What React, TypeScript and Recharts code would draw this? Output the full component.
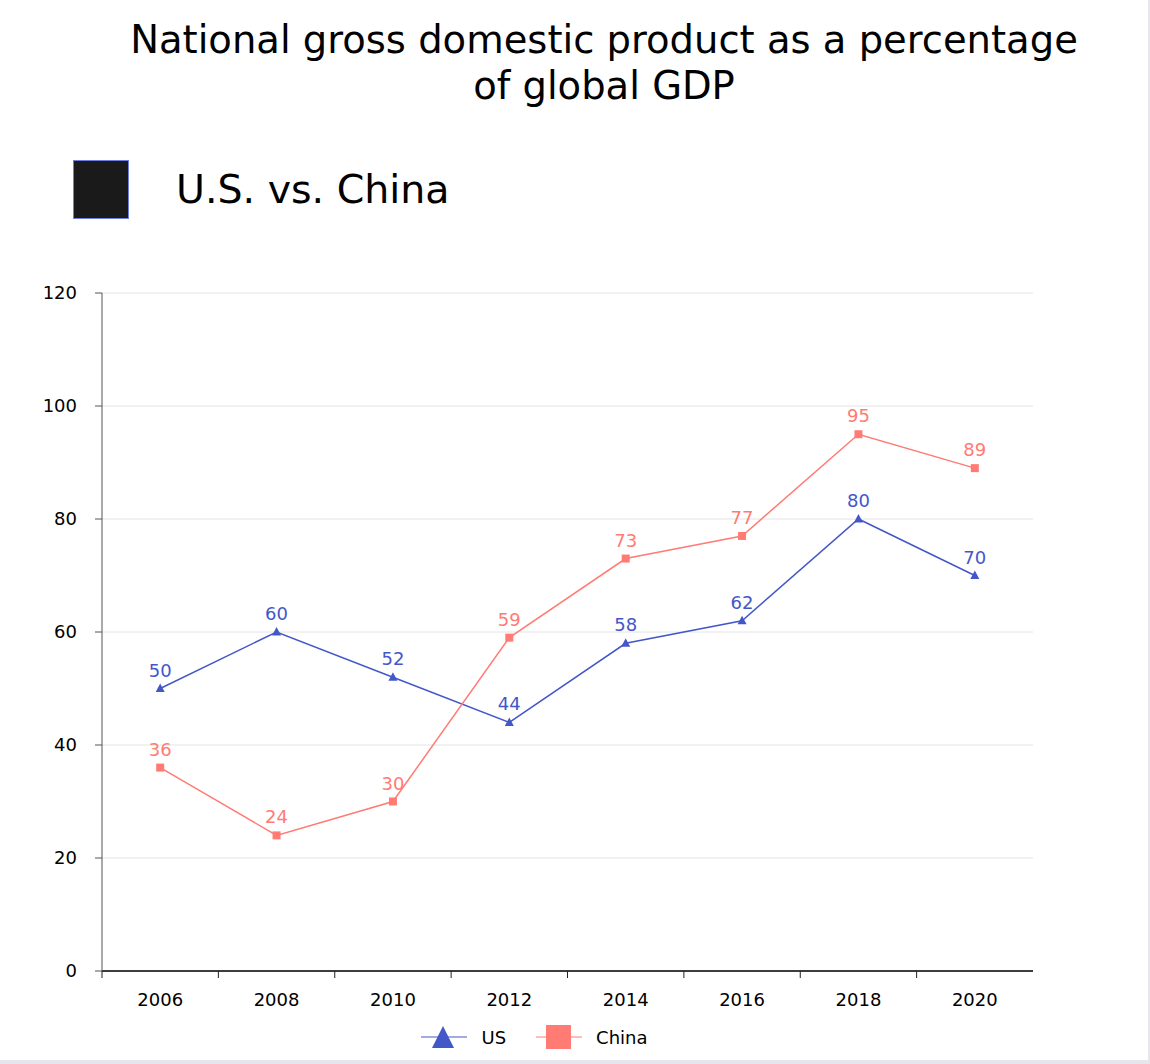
import React from 'react'
import {
	LineChart,
	Line,
	XAxis,
	YAxis,
	CartesianGrid,
	Legend,
	LabelList,
} from 'recharts'

const years = [2006, 2008, 2010, 2012, 2014, 2016, 2018, 2020]
const usValues = [50, 60, 52, 44, 58, 62, 80, 70]
const chinaValues = [36, 24, 30, 59, 73, 77, 95, 89]
const yTicks = [0, 20, 40, 60, 80, 100, 120]
const boundaryTicks = [2005, 2007, 2009, 2011, 2013, 2015, 2017, 2019]
const allXTicks = [...boundaryTicks, ...years].sort((a, b) => a - b)

const US_COLOR = '#4357c9'
const CHINA_COLOR = '#ff7b74'
const FONT = '"DejaVu Sans", Verdana, sans-serif'

const data = years.map((year, i) => ({
	year,
	US: usValues[i],
	China: chinaValues[i],
}))

const TriangleDot = (props: any) => {
	const { cx, cy } = props
	if (cx == null || cy == null) return null
	return (
		<polygon
			points={`${cx},${cy - 5} ${cx - 4.5},${cy + 3.5} ${cx + 4.5},${cy + 3.5}`}
			fill={US_COLOR}
		/>
	)
}

const SquareDot = (props: any) => {
	const { cx, cy } = props
	if (cx == null || cy == null) return null
	return <rect x={cx - 4} y={cy - 4} width={8} height={8} fill={CHINA_COLOR} />
}

// boundary years get a tick mark, data years get a label
const XTick = (props: any) => {
	const { x, y, payload } = props
	if (boundaryTicks.includes(payload.value)) {
		return <line x1={x} y1={y} x2={x} y2={y + 7} stroke='#222' />
	}
	return (
		<text
			x={x}
			y={y + 22}
			dy='0.71em'
			textAnchor='middle'
			fill='#000'
			fontSize={18}
			fontFamily={FONT}>
			{payload.value}
		</text>
	)
}

const LegendContent = () => (
	<div
		style={{
			display: 'flex',
			justifyContent: 'center',
			alignItems: 'center',
			gap: 30,
			fontFamily: FONT,
			fontSize: 18,
			color: '#000',
			paddingLeft: 36,
		}}>
		<div style={{ display: 'flex', alignItems: 'center' }}>
			<svg width={46} height={26}>
				<line x1={0} y1={13} x2={46} y2={13} stroke={US_COLOR} strokeWidth={1} />
				<polygon points='22,2 11,24 33,24' fill={US_COLOR} />
			</svg>
			<span style={{ marginLeft: 14 }}>US</span>
		</div>
		<div style={{ display: 'flex', alignItems: 'center' }}>
			<svg width={46} height={26}>
				<line x1={0} y1={13} x2={46} y2={13} stroke={CHINA_COLOR} strokeWidth={1} />
				<rect x={10} y={1} width={25} height={24} fill={CHINA_COLOR} />
			</svg>
			<span style={{ marginLeft: 14 }}>China</span>
		</div>
	</div>
)

const App = () => {
	return (
		<div
			style={{
				position: 'absolute',
				left: 0,
				top: 0,
				width: 1148,
				height: 1060,
				background: '#fff',
				borderRight: '2px solid #e6e6ec',
				borderBottom: '4px solid #e6e6ec',
				fontFamily: FONT,
			}}>
			<div
				style={{
					position: 'absolute',
					top: 17,
					left: 0,
					width: 1208,
					textAlign: 'center',
					fontSize: 38.5,
					lineHeight: '46px',
					color: '#000',
				}}>
				National gross domestic product as a percentage
				<br />
				of global GDP
			</div>
			<div
				style={{
					position: 'absolute',
					left: 73,
					top: 160,
					width: 54,
					height: 57,
					background: '#1a1a1a',
					border: '1px solid #6f7fe0',
				}}
			/>
			<div
				style={{
					position: 'absolute',
					left: 176,
					top: 166,
					fontSize: 39.5,
					lineHeight: '46px',
					color: '#000',
				}}>
				U.S. vs. China
			</div>
			<div style={{ position: 'absolute', left: 0, top: 260 }}>
				<LineChart
					width={1150}
					height={804}
					data={data}
					margin={{ top: 33, right: 117, left: 0, bottom: 27 }}>
					<CartesianGrid
						vertical={false}
						stroke='#e4e4e4'
					/>
					<XAxis
						type='number'
						dataKey='year'
						domain={[2005, 2021]}
						ticks={allXTicks}
						interval={0}
						tickLine={false}
						tickSize={0}
						tickMargin={0}
						axisLine={{ stroke: '#000', strokeWidth: 1.5 }}
						tick={<XTick />}
						height={40}
					/>
					<YAxis
						domain={[0, 120]}
						ticks={yTicks}
						interval={0}
						width={102}
						tickSize={7}
						tickMargin={18}
						tickLine={{ stroke: '#555' }}
						axisLine={{ stroke: '#555' }}
						tick={{ fill: '#000', fontSize: 18, fontFamily: FONT }}
						fontSize={18}
					/>
					<Legend
						verticalAlign='bottom'
						content={<LegendContent />}
						wrapperStyle={{ bottom: 14 }}
					/>
					<Line
						dataKey='US'
						stroke={US_COLOR}
						strokeWidth={1.5}
						dot={<TriangleDot />}
						activeDot={false}
						isAnimationActive={false}>
						<LabelList
							dataKey='US'
							position='top'
							offset={12}
							fill={US_COLOR}
							fontSize={18}
							fontFamily={FONT}
						/>
					</Line>
					<Line
						dataKey='China'
						stroke={CHINA_COLOR}
						strokeWidth={1.5}
						dot={<SquareDot />}
						activeDot={false}
						isAnimationActive={false}>
						<LabelList
							dataKey='China'
							position='top'
							offset={12}
							fill={CHINA_COLOR}
							fontSize={18}
							fontFamily={FONT}
						/>
					</Line>
				</LineChart>
			</div>
		</div>
	)
}

export default App
